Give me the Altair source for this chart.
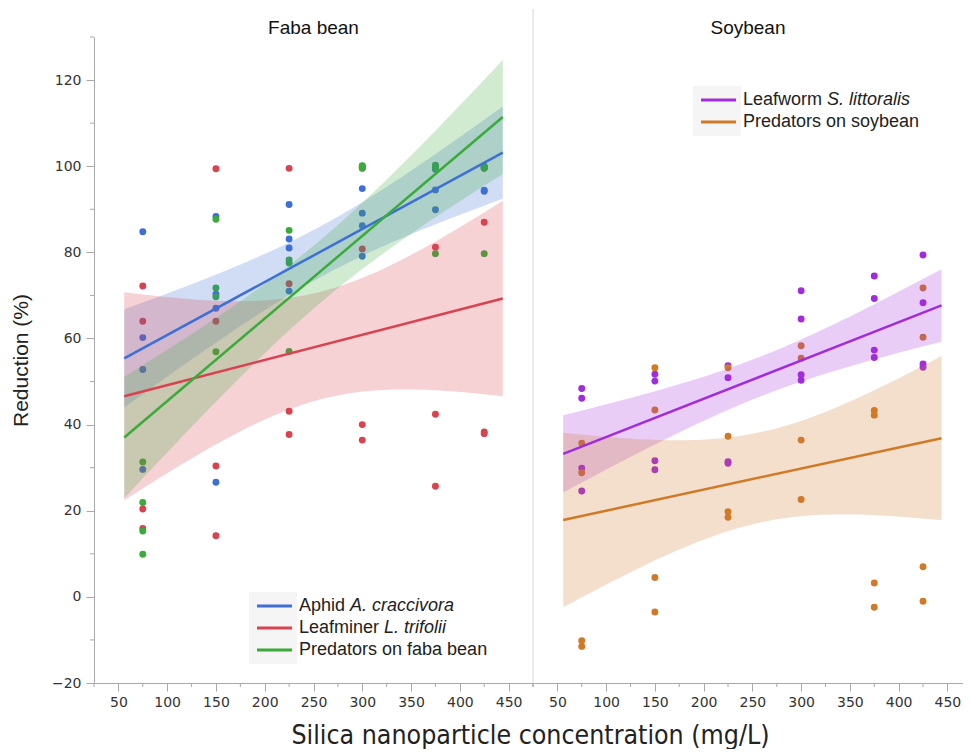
import altair as alt
import numpy as np
import pandas as pd

# ---------------- data ----------------
conc_levels = [75, 150, 225, 300, 375, 425]  # mg/L, 4 replicates each

aphid = [84.8, 60.2, 52.8, 29.6, 88.3, 70.3, 67.0, 26.6, 91.1, 83.1, 81.0, 71.0,
         94.8, 89.1, 86.2, 79.1, 100.0, 99.3, 94.5, 89.9, 100.0, 99.6, 94.4, 94.2]
leafminer = [72.2, 64.0, 20.4, 15.9, 99.4, 64.0, 30.4, 14.2, 99.5, 72.7, 43.1, 37.7,
             99.5, 80.8, 40.0, 36.4, 99.7, 81.2, 42.4, 25.7, 99.6, 87.0, 38.3, 37.9]
pred_faba = [31.3, 21.9, 15.3, 9.9, 87.7, 71.7, 69.7, 56.9, 85.1, 78.2, 77.5, 57.0,
             100.1, 99.8, 99.6, 100.0, 100.2, 99.8, 99.5, 79.7, 99.9, 99.5, 99.7, 79.7]
leafworm = [48.4, 46.1, 29.9, 24.6, 51.7, 50.1, 31.6, 29.5, 53.7, 50.9, 31.4, 31.0,
            71.1, 64.5, 51.6, 50.3, 74.5, 69.3, 57.3, 55.6, 79.4, 68.3, 54.1, 53.3]
pred_soy = [35.7, 28.8, -10.2, -11.5, 53.2, 43.4, 4.5, -3.5, 53.2, 37.3, 19.8, 18.5,
            58.3, 55.4, 36.4, 22.6, 43.3, 42.2, 3.2, -2.4, 71.7, 60.3, 7.0, -1.0]

series_keys = ["aphid", "leafminer", "pred_faba", "leafworm", "pred_soy"]
series_colors = ["#3e6fd6", "#d9424f", "#3aaa3a", "#a12cdd", "#d07a28"]

faba_series = [("aphid", aphid), ("leafminer", leafminer), ("pred_faba", pred_faba)]
soy_series = [("leafworm", leafworm), ("pred_soy", pred_soy)]

legend_faba = [("aphid", "Aphid ", "A. craccivora"),
               ("leafminer", "Leafminer ", "L. trifolii"),
               ("pred_faba", "Predators on faba bean", "")]
legend_soy = [("leafworm", "Leafworm ", "S. littoralis"),
              ("pred_soy", "Predators on soybean", "")]

panel_titles = ["Faba bean", "Soybean"]
x_title = "Silica nanoparticle concentration (mg/L)"
y_title = "Reduction (%)"

x_major = [50, 100, 150, 200, 250, 300, 350, 400, 450]
x_minor = [25, 75, 125, 175, 225, 275, 325, 375, 425, 475]
y_major = [-20, 0, 20, 40, 60, 80, 100, 120]
y_minor = [-10, 10, 30, 50, 70, 90, 110, 130]

fit_extent = [56, 444]
T_CRIT = 2.0739  # t(0.975, df=22)

# ---------------- helpers ----------------
ARIAL_W = {"A": .667, "p": .556, "h": .556, "i": .222, "d": .556, " ": .278, "L": .556,
           "e": .556, "a": .556, "f": .278, "m": .833, "n": .556, "r": .333, "w": .722,
           "o": .556}


def text_width(s, size):
    return sum(ARIAL_W.get(c, .556) for c in s) * size


def long_df(series):
    rows = []
    for key, vals in series:
        for i, v in enumerate(vals):
            rows.append({"series": key, "x": conc_levels[i // 4], "y": v})
    return pd.DataFrame(rows)


def band_df(series):
    grid = np.linspace(fit_extent[0], fit_extent[1], 80)
    rows = []
    for key, vals in series:
        x = np.repeat(conc_levels, 4).astype(float)
        y = np.asarray(vals, float)
        n = len(x)
        b, a = np.polyfit(x, y, 1)
        s = np.sqrt(np.sum((y - (a + b * x)) ** 2) / (n - 2))
        sxx = np.sum((x - x.mean()) ** 2)
        se = s * np.sqrt(1.0 / n + (grid - x.mean()) ** 2 / sxx)
        fit = a + b * grid
        for g, lo, hi in zip(grid, fit - T_CRIT * se, fit + T_CRIT * se):
            rows.append({"series": key, "x": float(g), "lo": float(lo), "hi": float(hi)})
    return pd.DataFrame(rows)


color_scale = alt.Scale(domain=series_keys, range=series_colors)
color_enc = alt.Color("series:N", scale=color_scale, legend=None)

H = 646
W_LEFT = 439
W_RIGHT = 430
AX_COL = "#a8a8a8"


def x_axis(show_title):
    kw = dict(values=x_major, tickSize=8, grid=False,
              labelFont="DejaVu Sans", labelFontSize=14, labelColor="#333",
              labelPadding=4, domainColor=AX_COL, tickColor=AX_COL,
              labelFlush=False, labelOverlap=False)
    if show_title:
        kw.update(title=x_title, titleFont="DejaVu Sans Condensed", titleFontSize=26.5,
                  titleFontWeight="normal", titleColor="#222", titleX=436, titleY=60,
                  titleAlign="center", titleBaseline="alphabetic")
    else:
        kw.update(title=None)
    return alt.Axis(**kw)


y_axis_main = alt.Axis(values=y_major, tickSize=8, grid=False, title=y_title,
                       labelFont="DejaVu Sans", labelFontSize=14, labelColor="#333",
                       labelPadding=5, domainColor=AX_COL, tickColor=AX_COL,
                       titleFont="Liberation Sans", titleFontSize=21, titleFontWeight="normal",
                       titleColor="#222", titlePadding=20, labelOverlap=False)


def panel(series, width, xdomain, show_y, show_xtitle, title, legend, leg_pos):
    df = long_df(series)
    bd = band_df(series)
    one = pd.DataFrame({"k": [0]})
    xs = alt.Scale(domain=xdomain, nice=False, zero=False)
    ys = alt.Scale(domain=[-20, 130], nice=False, zero=False)
    xax = x_axis(show_xtitle)
    yax = y_axis_main if show_y else None
    x = alt.X("x:Q", scale=xs, axis=xax)
    y = alt.Y("y:Q", scale=ys, axis=yax)

    points = alt.Chart(df).mark_circle(size=48, opacity=1).encode(x=x, y=y, color=color_enc)
    bands = alt.Chart(bd).mark_area(opacity=0.24).encode(
        x=x, y=alt.Y("lo:Q", scale=ys, axis=yax), y2="hi:Q", color=color_enc)
    lines = alt.Chart(df).transform_regression(
        "x", "y", groupby=["series"], extent=fit_extent
    ).mark_line(strokeWidth=2.5).encode(x=x, y=y, color=color_enc)

    xm = [v for v in x_minor if xdomain[0] <= v <= xdomain[1]]
    minor_x = alt.Chart(pd.DataFrame({"x": xm})).mark_rule(color=AX_COL).encode(
        x=x, y=alt.value(H), y2=alt.value(H + 4))

    header = alt.Chart(one).mark_text(
        font="Liberation Sans", fontSize=19, color="#111", align="center", baseline="alphabetic"
    ).encode(x=alt.value(width / 2), y=alt.value(-3), text=alt.value(title))

    layers = [points, bands, lines, minor_x, header]
    if show_y:
        layers.append(alt.Chart(pd.DataFrame({"y": y_minor})).mark_rule(color=AX_COL).encode(
            y=y, x=alt.value(-4), x2=alt.value(0)))

    # manual legend (mixed roman / italic labels)
    lx, ly = leg_pos
    fs = 18
    layers.append(alt.Chart(one).mark_rect(color="#f5f5f5").encode(
        x=alt.value(lx - 8), x2=alt.value(lx + 40), y=alt.value(ly - 14),
        y2=alt.value(ly + 22 * (len(legend) - 1) + 14)))
    for i, (key, normal, italic) in enumerate(legend):
        yy = ly + 22 * i
        seg = pd.DataFrame({"series": [key]})
        layers.append(alt.Chart(seg).mark_rule(strokeWidth=3).encode(
            x=alt.value(lx), x2=alt.value(lx + 35), y=alt.value(yy), color=color_enc))
        layers.append(alt.Chart(one).mark_text(
            font="Liberation Sans", fontSize=fs, color="#222", align="left", baseline="middle"
        ).encode(x=alt.value(lx + 42), y=alt.value(yy), text=alt.value(normal)))
        if italic:
            layers.append(alt.Chart(one).mark_text(
                font="Liberation Sans", fontSize=fs, fontStyle="italic", color="#222",
                align="left", baseline="middle"
            ).encode(x=alt.value(lx + 42 + text_width(normal, fs)), y=alt.value(yy),
                     text=alt.value(italic)))

    if not show_y:
        layers.append(alt.Chart(one).mark_rule(color="#d6d6d6", strokeWidth=1).encode(
            x=alt.value(0), y=alt.value(-28), y2=alt.value(H)))

    return alt.layer(*layers).properties(width=width, height=H)


left = panel(faba_series, W_LEFT, [25, 475], True, True, panel_titles[0], legend_faba, (163, 569))
right = panel(soy_series, W_RIGHT, [25, 466], False, False, panel_titles[1], legend_soy, (168, 63))

chart = alt.hconcat(left, right, spacing=0, bounds="flush").resolve_scale(
    x="independent", y="independent"
).properties(
    padding={"left": 2, "top": 0, "right": 0, "bottom": 0}
).configure_view(stroke=None)

chart.save("out.html", embed_options={"renderer": "svg", "actions": False})
